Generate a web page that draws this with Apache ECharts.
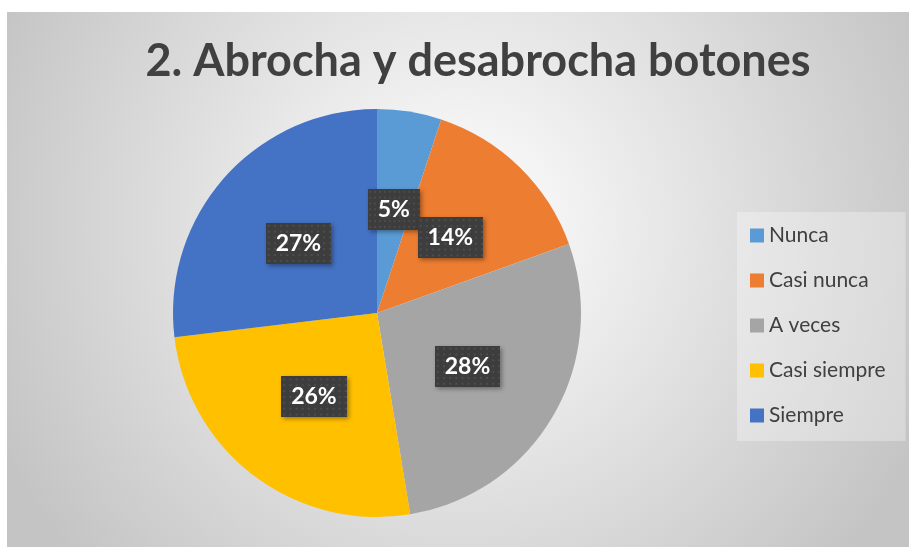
<!DOCTYPE html>
<html>
<head>
<meta charset="utf-8">
<script src="https://cdn.jsdelivr.net/npm/echarts@6/dist/echarts.min.js"></script>
<style>
	html, body { margin: 0; padding: 0; background: #fff; }
	#main { width: 909px; height: 547px; }
</style>
</head>
<body>
<div id="main"></div>
<script>
// datos
const titulo = '2. Abrocha y desabrocha botones';
const categorias = [ 'Nunca', 'Casi nunca', 'A veces', 'Casi siempre', 'Siempre' ];
const valores = [ 5.1, 14.4, 27.9, 25.7, 26.9 ];
const colores = [ '#5B9BD5', '#ED7D31', '#A5A5A5', '#FFC000', '#4472C4' ];

// fondo de las etiquetas: gris oscuro con puntitos
function makePattern( w, h ) {
	const c = document.createElement( 'canvas' );
	c.width = w;
	c.height = h;
	const ctx = c.getContext( '2d' );
	ctx.fillStyle = '#3d3d3d';
	ctx.fillRect( 0, 0, w, h );
	ctx.fillStyle = '#4d4d4d';
	for ( let y = 2; y < h; y += 6 ) {
		for ( let x = 2; x < w; x += 6 ) {
			ctx.fillRect( x, y, 2, 2 );
		}
	}
	return c;
}
const patron = makePattern( 64, 42 );

const myChart = echarts.init( document.getElementById( 'main' ) );
const option = {
	animation: false,
	graphic: [ {
		type: 'rect',
		z: -10,
		silent: true,
		shape: { x: 7, y: 12, width: 902, height: 535 },
		style: {
			fill: {
				type: 'radial',
				x: 0.5,
				y: 0.4,
				r: 0.95,
				colorStops: [
					{ offset: 0, color: '#ffffff' },
					{ offset: 1, color: '#c4c4c4' }
				]
			}
		}
	} ],
	title: {
		text: titulo,
		left: 473,
		top: 34,
		textAlign: 'center',
		textStyle: {
			fontFamily: 'Lato',
			fontWeight: 'bold',
			fontSize: 45,
			color: '#404040'
		}
	},
	legend: {
		orient: 'vertical',
		left: 737,
		top: 212,
		padding: [ 12, 20, 14, 13 ],
		itemWidth: 14,
		itemHeight: 14,
		itemGap: 22,
		icon: 'rect',
		backgroundColor: 'rgba(255,255,255,0.3)',
		data: categorias,
		textStyle: {
			fontFamily: 'Lato',
			fontSize: 21,
			lineHeight: 23,
			color: '#404040'
		}
	},
	series: [ {
		type: 'pie',
		center: [ 377, 313 ],
		radius: 204,
		startAngle: 90,
		clockwise: true,
		avoidLabelOverlap: false,
		data: categorias.map( ( n, i ) => ( { name: n, value: valores[i], itemStyle: { color: colores[i] } } ) ),
		label: {
			position: 'inside',
			formatter: p => Math.round( p.percent ) + '%',
			fontFamily: 'Lato',
			fontWeight: 'bold',
			fontSize: 23,
			color: '#fff',
			padding: [ 10, 10, 8, 10 ],
			backgroundColor: { image: patron },
			shadowColor: 'rgba(0,0,0,0.35)',
			shadowBlur: 4,
			shadowOffsetX: 2,
			shadowOffsetY: 2
		},
		labelLayout: { hideOverlap: false },
		labelLine: { show: false },
		emphasis: { disabled: true }
	} ]
};
myChart.setOption( option );
</script>
</body>
</html>
